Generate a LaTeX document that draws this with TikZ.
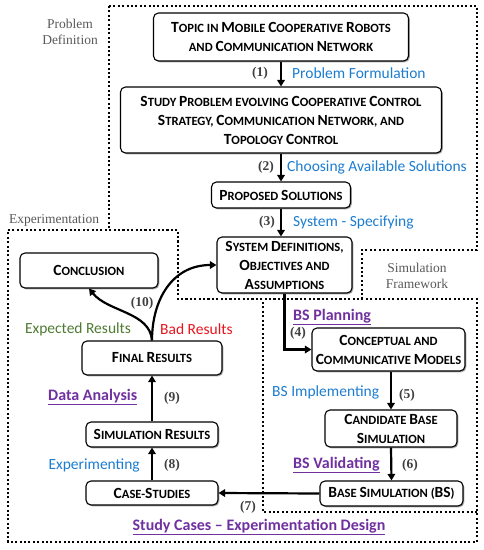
\documentclass[tikz,border=0pt]{standalone}
\usepackage{fontspec}
\setmainfont{Liberation Serif}
\newfontfamily\carl{Carlito}
\usetikzlibrary{arrows.meta,shadows}
\definecolor{myblue}{HTML}{1C7CD0}
\definecolor{mypurple}{HTML}{7030A0}
\definecolor{mygreen}{HTML}{4E7A32}
\definecolor{myred}{HTML}{E8141C}
\definecolor{mygray}{HTML}{595959}
\definecolor{numgray}{HTML}{404040}
\newcommand\Bg[1]{{\fontsize{15.5}{19}\selectfont #1}}
\tikzset{
  box/.style={draw, line width=1.1pt, rounded corners=5pt, fill=white, align=center, inner sep=0pt,
    font=\carl\bfseries\fontsize{12.6}{19}\selectfont,
    drop shadow={shadow xshift=1.3pt, shadow yshift=-1.3pt, opacity=0.35, fill=black}},
  arr/.style={line width=2.2pt, -{Triangle[length=6.5pt,width=7.5pt]}},
  dotreg/.style={line width=2pt, dash pattern=on 2pt off 2.4pt},
  lab/.style={font=\carl\fontsize{15.5}{15.5}\selectfont, text=myblue, inner sep=0pt},
  pur/.style={font=\carl\bfseries\fontsize{16}{16}\selectfont, text=mypurple, inner sep=0pt},
  num/.style={font=\bfseries\fontsize{13.5}{13.5}\selectfont, text=numgray, inner sep=0pt},
  reg/.style={font=\fontsize{13.5}{16}\selectfont, text=mygray, align=center, inner sep=0pt}
}
\begin{document}
\begin{tikzpicture}[x=1pt,y=-1pt]
\useasboundingbox (0,0) rectangle (484,550);
% regions
\draw[dotreg] (109,6) -- (477,6) -- (477,250) -- (362,250) -- (362,299) -- (178,299) -- (178,230) -- (109,230) -- cycle;
\draw[dotreg] (8,230) -- (178,230) -- (178,299) -- (477,299) -- (477,542) -- (8,542) -- cycle;
\draw[dotreg] (263,302) -- (263,512) -- (477,512);
\node[reg] (pdef) at (70,32) {Problem\\Definition};
\node[reg] (expl) at (54,220) {Experimentation};
\node[reg] (simf) at (417,276) {Simulation\\Framework};
% boxes
\node[box, minimum width=255pt, minimum height=48pt] (topic) at (281,37)
  {\Bg{T}OPIC IN \Bg{M}OBILE \Bg{C}OOPERATIVE \Bg{R}OBOTS\\AND \Bg{C}OMMUNICATION \Bg{N}ETWORK};
\node[box, minimum width=321pt, minimum height=66pt] (study) at (281,120)
  {\Bg{S}TUDY \Bg{P}ROBLEM EVOLVING \Bg{C}OOPERATIVE \Bg{C}ONTROL\\\Bg{S}TRATEGY, \Bg{C}OMMUNICATION \Bg{N}ETWORK, AND\\\Bg{T}OPOLOGY \Bg{C}ONTROL};
\node[box, minimum width=139pt, minimum height=26pt] (prop) at (281,195)
  {\Bg{P}ROPOSED \Bg{S}OLUTIONS};
\node[box, minimum width=135pt, minimum height=56pt] (sys) at (284.5,265)
  {\Bg{S}YSTEM \Bg{D}EFINITIONS,\\\Bg{O}BJECTIVES AND\\\Bg{A}SSUMPTIONS};
\node[box, minimum width=138pt, minimum height=35pt] (concl) at (89,270.5)
  {\Bg{C}ONCLUSION};
\node[box, minimum width=140pt, minimum height=34pt] (final) at (152,358)
  {\Bg{F}INAL \Bg{R}ESULTS};
\node[box, minimum width=132pt, minimum height=25pt] (simres) at (152,434.5)
  {\Bg{S}IMULATION \Bg{R}ESULTS};
\node[box, minimum width=132pt, minimum height=24pt] (case) at (152,493)
  {\Bg{C}ASE-\Bg{S}TUDIES};
\node[box, minimum width=153pt, minimum height=43pt] (concept) at (388.5,349.5)
  {\Bg{C}ONCEPTUAL AND\\\Bg{C}OMMUNICATIVE \Bg{M}ODELS};
\node[box, minimum width=132pt, minimum height=37pt] (cand) at (391,428.5)
  {\Bg{C}ANDIDATE \Bg{B}ASE\\\Bg{S}IMULATION};
\node[box, minimum width=143pt, minimum height=25pt] (bs) at (391.5,493.5)
  {\Bg{B}ASE \Bg{S}IMULATION (\Bg{BS})};
% arrows
\draw[arr] (topic.south) -- (study.north);
\draw[arr] (study.south) -- (prop.north);
\draw[arr] (prop.south) -- (prop.south |- sys.north);
\draw[arr] (sys.south) |- (concept.west);
\draw[arr] (concept.south -| cand.north) -- (cand.north);
\draw[arr] (cand.south) -- (bs.north);
\draw[arr] (bs.west) -- (case.east);
\draw[arr] (case.north) -- (simres.south);
\draw[arr] (simres.north) -- (final.south);
\draw[arr] (final.north) .. controls (152,300) and (172,265) .. (sys.west);
\draw[arr] (final.north) .. controls (150,312) and (108,312) .. (concl.south);
% labels
\node[num] (n1) at (260,73) {(1)};
\node[lab, anchor=west] (l1) at (292,73) {Problem Formulation};
\node[num] (n2) at (266,167) {(2)};
\node[lab, anchor=west] (l2) at (287,167) {Choosing Available Solutions};
\node[num] (n3) at (267,222) {(3)};
\node[lab, anchor=west] (l3) at (293,222) {System - Specifying};
\node[num] (n4) at (298,333) {(4)};
\node[pur, anchor=west] (l4) at (293,317) {\underline{BS Planning}};
\node[num] (n5) at (407,395) {(5)};
\node[lab, anchor=west] (l5) at (272,392) {BS Implementing};
\node[num] (n6) at (410,465) {(6)};
\node[pur, anchor=west] (l6) at (293,465) {\underline{BS Validating}};
\node[num] (n7) at (248,507) {(7)};
\node[num] (n8) at (172,465) {(8)};
\node[lab, anchor=east] (l8) at (140,465) {Experimenting};
\node[num] (n9) at (172,398) {(9)};
\node[pur, anchor=west] (l9) at (48,397) {\underline{Data Analysis}};
\node[num] (n10) at (142,303) {(10)};
\node[lab, text=mygreen] (lexp) at (78,329) {Expected Results};
\node[lab, text=myred, anchor=west] (lbad) at (160,329) {Bad Results};
\node[pur] (lsc) at (259,527) {\underline{Study Cases – Experimentation Design}};
\end{tikzpicture}
\end{document}
